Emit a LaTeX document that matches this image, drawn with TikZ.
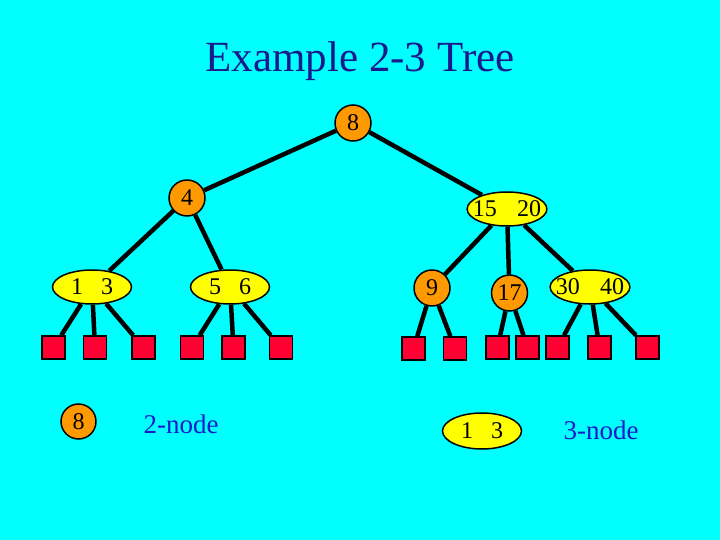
\documentclass[tikz,border=0pt]{standalone}
\usepackage{fontspec}
\setmainfont{Liberation Serif}
\usetikzlibrary{shapes.geometric}
\definecolor{slidecyan}{RGB}{0,255,255}
\definecolor{keyorange}{RGB}{255,153,0}
\definecolor{keyyellow}{RGB}{255,255,0}
\definecolor{leafred}{RGB}{255,0,51}
\definecolor{titleblue}{RGB}{26,26,140}
\definecolor{labelblue}{RGB}{26,26,204}

\begin{document}
\begin{tikzpicture}[x=1pt, y=-1pt, font=\fontsize{24}{28}\selectfont,
    twonode/.style={draw, circle, fill=keyorange, line width=1.5pt, minimum size=36pt, inner sep=0pt},
    threenode/.style={draw, ellipse, fill=keyyellow, line width=1.5pt, minimum width=79pt, minimum height=34pt, inner ysep=0pt, inner xsep=-6pt},
    leaf/.style={draw, fill=leafred, line width=1.5pt, minimum size=23pt, inner sep=0pt},
    treeline/.style={line width=4.5pt}]
    \fill [slidecyan] (0,0) rectangle (720,540);
    \useasboundingbox (0,0) rectangle (720,540);

    \node [anchor=base, text=titleblue, font=\fontsize{43}{50}\selectfont] (title) at (360,72) {Example 2-3 Tree};

    \node [twonode] (root) at (353,123) {8};
    \node [twonode] (n4) at (187,198) {4};
    \node [threenode] (n1520) at (507,209) {15\hspace{0.85em}20};

    \node [threenode] (n13) at (92,287) {1\hspace{0.75em}3};
    \node [threenode] (n56) at (230,287) {5\hspace{0.75em}6};
    \node [twonode] (n9) at (432,288) {9};
    \node [twonode] (n17) at (509.5,293) {17};
    \node [threenode] (n3040) at (590,287) {30\hspace{0.85em}40};

    \node [leaf] (l1) at (53.5,347.5) {};
    \node [leaf] (l3) at (95,347.5) {};
    \node [leaf] (l4) at (143.5,347.5) {};
    \node [leaf] (l5) at (192,347.5) {};
    \node [leaf] (l6) at (233.5,347.5) {};
    \node [leaf] (l7) at (281,347.5) {};
    \node [leaf] (l8) at (413.5,348.5) {};
    \node [leaf] (l9) at (455,348.5) {};
    \node [leaf] (l15) at (497.5,347.5) {};
    \node [leaf] (l17) at (527.5,347.5) {};
    \node [leaf] (l20) at (557.5,347.5) {};
    \node [leaf] (l30) at (599.5,347.5) {};
    \node [leaf] (l40) at (647.5,347.5) {};

    \draw [treeline] (root) -- (n4);
    \draw [treeline] (root) -- (n1520);
    \draw [treeline] (n4) -- (n13);
    \draw [treeline] (n4) -- (n56);
    \draw [treeline] (n1520) -- (n9);
    \draw [treeline] (n1520) -- (n17);
    \draw [treeline] (n1520) -- (n3040);

    \draw [treeline] (n13) -- (l1);
    \draw [treeline] (n13) -- (l3);
    \draw [treeline] (n13) -- (l4);
    \draw [treeline] (n56) -- (l5);
    \draw [treeline] (n56) -- (l6);
    \draw [treeline] (n56) -- (l7);
    \draw [treeline] (n9) -- (l8);
    \draw [treeline] (n9) -- (l9);
    \draw [treeline] (n17) -- (l15);
    \draw [treeline] (n17) -- (l17);
    \draw [treeline] (n3040) -- (l20);
    \draw [treeline] (n3040) -- (l30);
    \draw [treeline] (n3040) -- (l40);

    % Legend
    \node [twonode, minimum size=35pt] (key2) at (78.5,421.5) {8};
    \node [anchor=base west, text=labelblue, font=\fontsize{27}{32}\selectfont] (key2text) at (140,433) {2-node};
    \node [threenode, minimum height=36pt] (key3) at (482,431) {1\hspace{0.75em}3};
    \node [anchor=base west, text=labelblue, font=\fontsize{27}{32}\selectfont] (key3text) at (560,439) {3-node};

\end{tikzpicture}
\end{document}
